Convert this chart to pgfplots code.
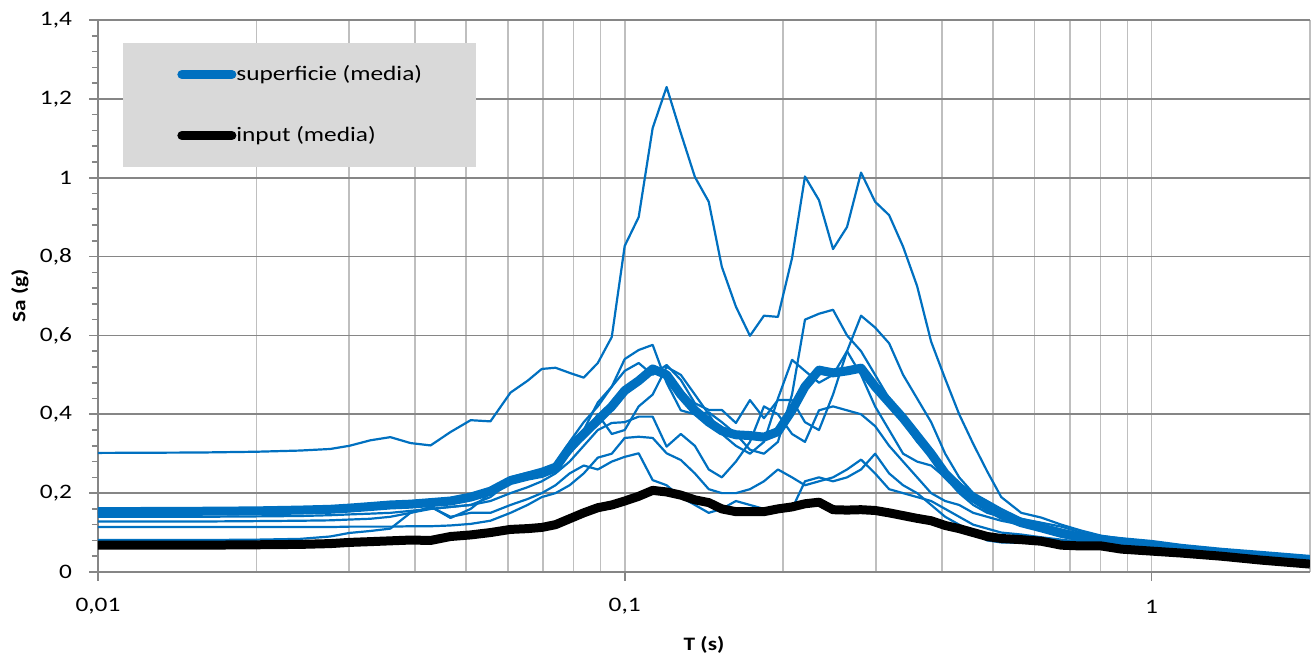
\documentclass[border=0pt]{standalone}
\usepackage{fontspec}
\setmainfont{Carlito}[FakeStretch=1.23]
\usepackage{pgfplots}
\usepackage{pgfplotstable}
\pgfplotsset{compat=1.18}

\definecolor{serieblue}{RGB}{0,112,192}
\definecolor{legendgray}{RGB}{217,217,217}
\definecolor{gridmajor}{RGB}{134,134,134}
\definecolor{gridminor}{RGB}{191,191,191}

% Spectral accelerations Sa (g) vs period T (s):
% A-G single records at the surface, M surface mean, I input mean
\pgfplotstableread{
T      A     B     C     D     E     F     G     M     I
0.0100 0.302 0.160 0.150 0.140 0.128 0.114 0.081 0.153 0.068
0.0156 0.303 0.160 0.150 0.140 0.128 0.114 0.081 0.154 0.068
0.0200 0.305 0.161 0.151 0.141 0.129 0.114 0.082 0.155 0.069
0.0242 0.308 0.162 0.152 0.142 0.130 0.114 0.084 0.157 0.070
0.0276 0.312 0.164 0.154 0.144 0.131 0.114 0.090 0.159 0.072
0.0300 0.320 0.166 0.156 0.146 0.133 0.115 0.099 0.162 0.075
0.0329 0.334 0.170 0.160 0.148 0.135 0.115 0.104 0.166 0.077
0.0359 0.342 0.175 0.165 0.150 0.140 0.115 0.110 0.170 0.079
0.0392 0.327 0.178 0.170 0.155 0.150 0.116 0.150 0.172 0.081
0.0428 0.321 0.180 0.166 0.160 0.160 0.116 0.165 0.176 0.080
0.0467 0.355 0.184 0.137 0.165 0.165 0.118 0.140 0.180 0.090
0.0510 0.385 0.192 0.160 0.170 0.170 0.122 0.150 0.190 0.094
0.0556 0.382 0.210 0.200 0.190 0.180 0.130 0.150 0.205 0.100
0.0607 0.455 0.240 0.235 0.230 0.200 0.150 0.170 0.232 0.108
0.0654 0.485 0.252 0.240 0.245 0.215 0.170 0.185 0.243 0.110
0.0696 0.515 0.262 0.255 0.250 0.230 0.190 0.200 0.250 0.113
0.0739 0.518 0.275 0.270 0.260 0.250 0.200 0.220 0.264 0.120
0.0786 0.505 0.330 0.320 0.300 0.280 0.220 0.250 0.315 0.135
0.0836 0.493 0.380 0.360 0.340 0.320 0.250 0.270 0.350 0.150
0.0889 0.530 0.420 0.430 0.400 0.360 0.290 0.260 0.385 0.163
0.0945 0.596 0.470 0.470 0.350 0.378 0.300 0.280 0.420 0.170
0.1000 0.827 0.540 0.510 0.360 0.380 0.340 0.292 0.460 0.180
0.1063 0.900 0.563 0.530 0.420 0.394 0.343 0.301 0.485 0.192
0.1130 1.126 0.576 0.500 0.450 0.394 0.340 0.233 0.515 0.207
0.1201 1.230 0.480 0.525 0.520 0.318 0.301 0.220 0.500 0.203
0.1278 1.113 0.410 0.487 0.500 0.350 0.284 0.190 0.450 0.195
0.1359 1.002 0.400 0.428 0.450 0.320 0.250 0.170 0.410 0.183
0.1444 0.939 0.405 0.411 0.400 0.260 0.210 0.150 0.380 0.176
0.1529 0.774 0.380 0.411 0.350 0.240 0.200 0.160 0.358 0.160
0.1626 0.673 0.350 0.378 0.320 0.280 0.200 0.180 0.348 0.153
0.1729 0.599 0.310 0.436 0.300 0.330 0.210 0.170 0.346 0.153
0.1838 0.650 0.300 0.390 0.330 0.420 0.230 0.160 0.342 0.153
0.1954 0.647 0.330 0.436 0.440 0.400 0.260 0.165 0.356 0.160
0.2078 0.796 0.450 0.436 0.538 0.350 0.240 0.160 0.410 0.165
0.2199 1.003 0.640 0.380 0.510 0.330 0.220 0.230 0.470 0.173
0.2338 0.943 0.655 0.360 0.480 0.410 0.230 0.240 0.512 0.177
0.2486 0.819 0.665 0.450 0.500 0.420 0.240 0.230 0.505 0.158
0.2643 0.875 0.600 0.560 0.560 0.410 0.260 0.240 0.510 0.157
0.2810 1.013 0.560 0.650 0.500 0.400 0.285 0.260 0.517 0.158
0.2988 0.939 0.500 0.620 0.420 0.370 0.250 0.300 0.470 0.156
0.3177 0.905 0.440 0.580 0.360 0.320 0.210 0.250 0.430 0.150
0.3377 0.825 0.380 0.500 0.300 0.280 0.200 0.220 0.390 0.143
0.3591 0.725 0.330 0.440 0.280 0.240 0.190 0.200 0.345 0.136
0.3818 0.584 0.290 0.380 0.270 0.200 0.180 0.170 0.300 0.130
0.4059 0.490 0.250 0.300 0.240 0.180 0.160 0.140 0.250 0.118
0.4315 0.400 0.225 0.240 0.200 0.170 0.140 0.120 0.215 0.110
0.4588 0.325 0.200 0.200 0.170 0.150 0.120 0.100 0.188 0.100
0.4878 0.255 0.180 0.170 0.150 0.140 0.110 0.080 0.165 0.090
0.5186 0.190 0.160 0.150 0.140 0.130 0.100 0.075 0.145 0.085
0.5660 0.150 0.135 0.135 0.120 0.120 0.095 0.074 0.125 0.082
0.6178 0.138 0.120 0.125 0.110 0.110 0.088 0.078 0.112 0.078
0.6744 0.120 0.108 0.115 0.100 0.100 0.082 0.070 0.098 0.068
0.7360 0.105 0.095 0.100 0.090 0.090 0.076 0.068 0.088 0.066
0.8034 0.092 0.085 0.088 0.082 0.080 0.070 0.066 0.082 0.066
0.8769 0.085 0.080 0.080 0.076 0.075 0.066 0.064 0.077 0.058
1.0000 0.072 0.070 0.068 0.066 0.068 0.060 0.062 0.070 0.053
1.1400 0.062 0.060 0.060 0.058 0.060 0.055 0.056 0.060 0.048
1.3590 0.052 0.050 0.050 0.049 0.050 0.047 0.048 0.050 0.040
1.6190 0.046 0.042 0.044 0.042 0.043 0.040 0.040 0.042 0.030
2.0000 0.036 0.032 0.030 0.030 0.032 0.030 0.028 0.032 0.020
}\spectra

\begin{document}
\begin{tikzpicture}
\begin{axis}[
  scale only axis,
  width=606pt, height=276pt,
  xmode=log,
  xmin=0.01, xmax=2,
  ymin=0, ymax=1.4,
  axis lines=left,
  axis line style={-, draw=gridmajor, line width=0.8pt},
  xtick={0.01,0.1,1},
  xticklabels={0{,}01,0{,}1,1},
  minor xtick={0.02,0.03,0.04,0.05,0.06,0.07,0.08,0.09,0.2,0.3,0.4,0.5,0.6,0.7,0.8,0.9,2},
  ytick={0,0.2,0.4,0.6,0.8,1,1.2,1.4},
  yticklabels={0,0{,}2,0{,}4,0{,}6,0{,}8,1,1{,}2,1{,}4},
  minor y tick num=4,
  xmajorgrids, xminorgrids, ymajorgrids,
  major x grid style={draw=gridminor, line width=0.8pt},
  minor x grid style={draw=gridminor, line width=0.8pt},
  major y grid style={draw=gridmajor, line width=0.8pt},
  tick align=outside,
  major tick length=4.3pt,
  minor tick length=3pt,
  tick style={draw=gridmajor, line width=0.8pt},
  minor x tick style={draw=none},
  ticklabel style={font=\fontsize{10.3}{12}\selectfont},
  xticklabel style={anchor=center, inner sep=0pt, yshift=-13pt},
  yticklabel style={anchor=east, inner sep=0pt, xshift=-8.5pt},
  xlabel={T (s)},
  ylabel={Sa (g)},
  xlabel style={at={(axis description cs:0.5,-0.1322)}, anchor=center,
    font=\bfseries\fontsize{9.5}{11}\selectfont},
  ylabel style={at={(axis description cs:-0.0644,0.5)}, anchor=center,
    font=\bfseries\fontsize{9.5}{11}\selectfont},
  legend style={at={(0,1)}, anchor=north west, xshift=12.5pt, yshift=-11.5pt,
    fill=legendgray, draw=none, inner xsep=27pt, inner ysep=11pt, row sep=21.5pt,
    nodes={inner sep=0pt}, cells={anchor=west},
    font=\fontsize{10.3}{12}\selectfont},
  legend image code/.code={\draw[#1, line cap=round] (0pt,0pt) -- (25pt,0pt);},
  every axis plot/.append style={line join=round},
]
\addplot[serieblue, line width=1.1pt, forget plot] table[x=T, y=A] {\spectra};
\addplot[serieblue, line width=1.1pt, forget plot] table[x=T, y=B] {\spectra};
\addplot[serieblue, line width=1.1pt, forget plot] table[x=T, y=C] {\spectra};
\addplot[serieblue, line width=1.1pt, forget plot] table[x=T, y=D] {\spectra};
\addplot[serieblue, line width=1.1pt, forget plot] table[x=T, y=E] {\spectra};
\addplot[serieblue, line width=1.1pt, forget plot] table[x=T, y=F] {\spectra};
\addplot[serieblue, line width=1.1pt, forget plot] table[x=T, y=G] {\spectra};
\addplot[serieblue, line width=4.5pt] table[x=T, y=M] {\spectra};
\addlegendentry{superficie (media)}
\addplot[black, line width=4.5pt] table[x=T, y=I] {\spectra};
\addlegendentry{input (media)}
\end{axis}
\pgfresetboundingbox
\useasboundingbox (-49pt,-45pt) rectangle (608pt,286pt);
\end{tikzpicture}
\end{document}
